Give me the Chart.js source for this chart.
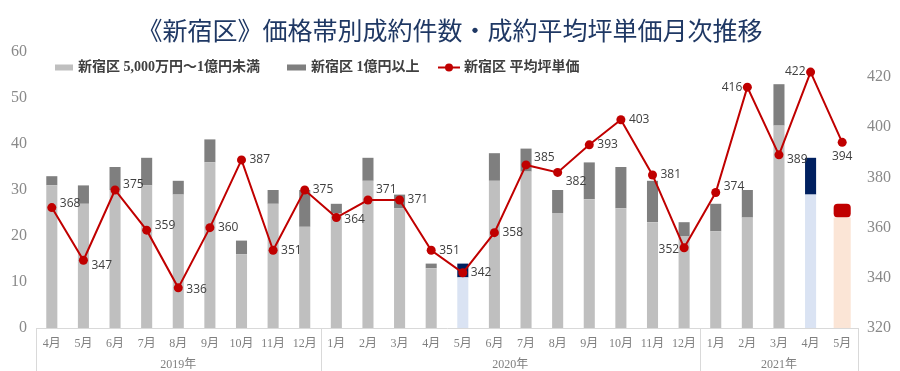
<!DOCTYPE html>
<html lang="ja">
<head>
<meta charset="utf-8">
<title>新宿区 価格帯別成約件数・成約平均坪単価月次推移</title>
<script src="https://cdn.jsdelivr.net/npm/chart.js@4.4.1/dist/chart.umd.min.js"></script>
<style>
  html, body { margin: 0; padding: 0; background: #fff; }
  #wrap { position: relative; width: 900px; height: 371px; }
</style>
</head>
<body>
<div id="wrap"><canvas id="chart-shinjuku"></canvas></div>
<script>
// Data -------------------------------------
// --> values

const months = ['4月', '5月', '6月', '7月', '8月', '9月', '10月', '11月', '12月',
    '1月', '2月', '3月', '4月', '5月', '6月', '7月', '8月', '9月', '10月', '11月', '12月',
    '1月', '2月', '3月', '4月', '5月']
const years = ['2019年', '2020年', '2021年']
const year_counts = [9, 12, 5] // months per year, for the second label row

// 新宿区 5,000万円〜1億円未満 (件)
const count_mid = [31, 27, 30, 31, 29, 36, 16, 27, 22,
    25, 32, 26, 13, 11, 32, 34, 25, 28, 26, 23, 20,
    21, 24, 44, 29, 24]
// 新宿区 1億円以上 (件)
const count_high = [2, 4, 5, 6, 3, 5, 3, 3, 8,
    2, 5, 3, 1, 3, 6, 5, 5, 8, 9, 9, 3,
    6, 6, 9, 8, 3]
// 新宿区 平均坪単価 (万円)
const avg_price = [368, 347, 375, 359, 336, 360, 387, 351, 375,
    364, 371, 371, 351, 342, 358, 385, 382, 393, 403, 381, 352,
    374, 416, 389, 422, 394]

const left_ticks = [0, 10, 20, 30, 40, 50, 60]
const right_ticks = [320, 340, 360, 380, 400, 420]

// Style settings -------------------------------------

const color_mid = '#bfbfbf'
const color_high = '#7f7f7f'
const color_mid_hl = '#dae3f3'
const color_high_hl = '#002060'
const color_mid_last = '#fbe5d6'
const color_high_last = '#c00000'
const color_line = '#c00000'
const color_tick = '#898989'
const color_text = '#404040'

const highlight = [13, 24] // months drawn in blue
const last = months.length - 1 // latest month, drawn wider in orange/red

// label placement for the price line: side and vertical nudge (px)
const label_side = ['r', 'r', 'r', 'r', 'r', 'r', 'r', 'r', 'r',
    'r', 'r', 'r', 'r', 'r', 'r', 'r', 'r', 'r', 'r', 'r', 'l',
    'r', 'l', 'r', 'l', 'b']
const label_dy = [-4, 5, -5, -5, 2, 0, 0, 0, 0,
    2, -10, 0, 0, 0, 0, -7, 9, 0, 0, 0, 2,
    -6, 0, 5, 0, 0]

const serif = "'Liberation Serif', 'Noto Sans CJK JP', serif"
const sans_jp = "'Noto Sans CJK JP', sans-serif"

// Dataset building -------------------------------------

function main_part(values) {
    return values.map((v, i) => i === last ? null : v)
}

function last_part(values) {
    return values.map((v, i) => i === last ? v : null)
}

function bar_colors(base, hl) {
    return months.map((m, i) => highlight.includes(i) ? hl : base)
}

const data = {
    labels: months,
    datasets: [
        {
            type: 'line',
            label: '新宿区 平均坪単価',
            data: avg_price,
            yAxisID: 'y1',
            borderColor: color_line,
            backgroundColor: color_line,
            borderWidth: 2,
            pointRadius: 4.5,
            pointBackgroundColor: color_line,
            pointBorderWidth: 0,
            tension: 0,
            order: 0,
        },
        {
            type: 'bar',
            label: '新宿区 5,000万円〜1億円未満',
            data: main_part(count_mid),
            yAxisID: 'y',
            backgroundColor: bar_colors(color_mid, color_mid_hl),
            barPercentage: 0.35,
            categoryPercentage: 1,
            order: 1,
        },
        {
            type: 'bar',
            label: '新宿区 1億円以上',
            data: main_part(count_high),
            yAxisID: 'y',
            backgroundColor: bar_colors(color_high, color_high_hl),
            barPercentage: 0.35,
            categoryPercentage: 1,
            order: 1,
        },
        {
            type: 'bar',
            label: 'last_mid',
            data: last_part(count_mid),
            yAxisID: 'y',
            backgroundColor: color_mid_last,
            barPercentage: 0.54,
            categoryPercentage: 1,
            order: 1,
        },
        {
            type: 'bar',
            label: 'last_high',
            data: last_part(count_high),
            yAxisID: 'y',
            backgroundColor: color_high_last,
            borderRadius: 4,
            borderSkipped: false,
            barPercentage: 0.54,
            categoryPercentage: 1,
            order: 1,
        },
    ]
}

// Plugins -------------------------------------

// month axis: year row and the separator lines under the axis
const year_axis = {
    id: 'year_axis',
    afterDraw(chart) {
        const ctx = chart.ctx
        const x = chart.scales.x
        const step = x.width / months.length
        const bottom = chart.chartArea.bottom

        const edges = [0]
        year_counts.forEach(n => edges.push(edges[edges.length - 1] + n))

        ctx.save()
        ctx.strokeStyle = '#d9d9d9'
        ctx.lineWidth = 1
        edges.forEach(i => {
            const px = Math.round(x.left + step * i) + 0.5
            ctx.beginPath()
            ctx.moveTo(px, bottom)
            ctx.lineTo(px, chart.height)
            ctx.stroke()
        })

        ctx.fillStyle = '#7f7f7f'
        ctx.font = '12px ' + serif
        ctx.textAlign = 'center'
        ctx.textBaseline = 'middle'
        years.forEach((yr, k) => {
            const mid = x.left + step * (edges[k] + edges[k + 1]) / 2
            ctx.fillText(yr, mid, 365)
        })
        ctx.restore()
    }
}

// value labels next to the price points
const price_labels = {
    id: 'price_labels',
    afterDatasetsDraw(chart) {
        const ctx = chart.ctx
        const points = chart.getDatasetMeta(0).data

        ctx.save()
        ctx.fillStyle = color_text
        ctx.font = '12px "Open Sans", sans-serif'
        ctx.textBaseline = 'middle'
        points.forEach((pt, i) => {
            const side = label_side[i]
            let tx = pt.x + 8
            let ty = pt.y + label_dy[i]
            ctx.textAlign = 'left'
            if (side === 'l') {
                ctx.textAlign = 'right'
                tx = pt.x - 5
            } else if (side === 'b') {
                ctx.textAlign = 'center'
                tx = pt.x
                ty = pt.y + 14
            }
            ctx.fillText(String(avg_price[i]), tx, ty)
        })
        ctx.restore()
    }
}

// legend sitting inside the plot, as in the original sheet
const inner_legend = {
    id: 'inner_legend',
    afterDraw(chart) {
        const ctx = chart.ctx
        const ds = chart.data.datasets
        const cy = 67.5

        ctx.save()
        ctx.font = 'bold 14px ' + serif
        ctx.fillStyle = color_text
        ctx.textBaseline = 'middle'
        ctx.textAlign = 'left'

        // bar entries
        ctx.fillStyle = color_mid
        ctx.fillRect(55, cy - 3, 18, 6)
        ctx.fillStyle = color_text
        ctx.fillText(ds[1].label, 78, cy)

        ctx.fillStyle = color_high
        ctx.fillRect(287, cy - 3, 19, 6)
        ctx.fillStyle = color_text
        ctx.fillText(ds[2].label, 311, cy)

        // line entry
        ctx.strokeStyle = color_line
        ctx.lineWidth = 2
        ctx.beginPath()
        ctx.moveTo(438, cy)
        ctx.lineTo(460, cy)
        ctx.stroke()
        ctx.fillStyle = color_line
        ctx.beginPath()
        ctx.arc(449, cy, 4, 0, Math.PI * 2)
        ctx.fill()
        ctx.fillStyle = color_text
        ctx.fillText(ds[0].label, 464, cy)
        ctx.restore()
    }
}

// Config -------------------------------------

const config = {
    data: data,
    options: {
        responsive: true,
        maintainAspectRatio: false,
        animation: false,
        layout: { padding: 0 },
        plugins: {
            legend: { display: false },
            tooltip: { enabled: false },
            title: {
                display: true,
                text: '《新宿区》価格帯別成約件数・成約平均坪単価月次推移',
                color: '#1f3864',
                font: { family: sans_jp, size: 25, weight: 'normal' },
                padding: { top: 15, bottom: 7 },
            },
        },
        scales: {
            x: {
                stacked: true,
                grid: { display: false, drawTicks: false },
                border: { display: true, color: '#d9d9d9' },
                ticks: {
                    autoSkip: false,
                    maxRotation: 0,
                    padding: 9,
                    color: '#7f7f7f',
                    font: { family: serif, size: 12 },
                },
                afterFit(scale) { scale.height = 43 },
            },
            y: {
                stacked: true,
                position: 'left',
                min: 0,
                max: 60,
                grid: { display: false, drawTicks: false },
                border: { display: false },
                afterBuildTicks(scale) {
                    scale.ticks = left_ticks.map(v => ({ value: v }))
                },
                ticks: {
                    padding: 9,
                    color: color_tick,
                    font: { family: serif, size: 16 },
                },
                afterFit(scale) { scale.width = 36 },
            },
            y1: {
                position: 'right',
                min: 320,
                max: 430,
                grid: { display: false, drawTicks: false },
                border: { display: false },
                afterBuildTicks(scale) {
                    scale.ticks = right_ticks.map(v => ({ value: v }))
                },
                ticks: {
                    padding: 9,
                    color: color_tick,
                    font: { family: serif, size: 16 },
                },
                afterFit(scale) { scale.width = 42 },
            },
        },
    },
    plugins: [year_axis, price_labels, inner_legend],
}

const context = document.getElementById('chart-shinjuku').getContext('2d')
const chart = new Chart(context, config)
</script>
</body>
</html>
